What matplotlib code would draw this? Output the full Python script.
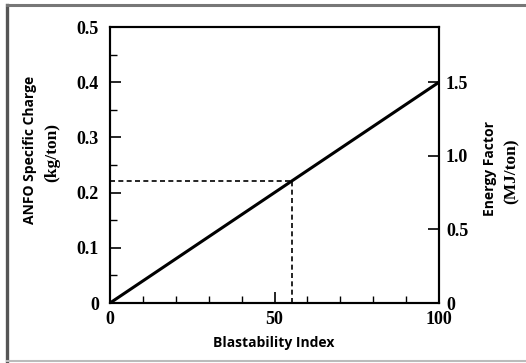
import matplotlib
matplotlib.use('Agg')
import matplotlib.pyplot as plt
from matplotlib.lines import Line2D

# blastability index vs ANFO specific charge (linear)
bi = [0, 100]
charge = [0, 0.4]
bi_mark = 55.3
charge_mark = 0.2212
energy_ticks = [0, 0.5, 1.0, 1.5]
energy_labels = ['0', '0.5', '1.0', '1.5']
energy_per_charge = 3.75  # MJ/ton per kg/ton

serif = 'Liberation Serif'
sans = 'Open Sans'

fig = plt.figure(figsize=(5.26, 3.63), dpi=100)
ax = fig.add_axes([110/526, 1 - 303/363, 329/526, 276/363])

ax.plot(bi, charge, color='black', lw=2.2, solid_capstyle='butt')
ax.plot([0, bi_mark], [charge_mark, charge_mark], color='black', lw=1.2, ls=(0, (3, 2)))
ax.plot([bi_mark, bi_mark], [0, charge_mark], color='black', lw=1.2, ls=(0, (3, 2)))

ax.set_xlim(0, 100)
ax.set_ylim(0, 0.5)
ax.set_xticks([0, 50, 100])
ax.set_xticks(range(0, 101, 10), minor=True)
ax.set_yticks([0, 0.1, 0.2, 0.3, 0.4, 0.5])
ax.set_yticklabels(['0', '0.1', '0.2', '0.3', '0.4', '0.5'])
ax.set_yticks([0.05, 0.15, 0.25, 0.35, 0.45], minor=True)
ax.tick_params(which='major', direction='in', length=8, width=1.2, top=False, right=False)
ax.tick_params(which='minor', direction='in', length=5, width=1.0, top=False, right=False)
ax.tick_params(axis='x', pad=6)
ax.tick_params(axis='y', pad=8)
for lab in ax.get_xticklabels() + ax.get_yticklabels():
    lab.set_fontfamily(serif)
    lab.set_fontweight('bold')
    lab.set_fontsize(13)
for s in ax.spines.values():
    s.set_linewidth(1.5)

ax2 = ax.twinx()
ax2.set_ylim(0, 0.5 * energy_per_charge)
ax2.set_yticks(energy_ticks)
ax2.set_yticklabels(energy_labels)
ax2.tick_params(direction='in', length=8, width=1.2, pad=5)
for lab in ax2.get_yticklabels():
    lab.set_fontfamily(serif)
    lab.set_fontweight('bold')
    lab.set_fontsize(13)
for s in ax2.spines.values():
    s.set_linewidth(1.5)

# axis titles (sans first line, serif units)
fig.text(274/526, 1 - 343/363, 'Blastability Index', family=sans, weight='bold',
         fontsize=10, ha='center', va='center')
fig.text(30/526, 1 - 150/363, 'ANFO Specific Charge', family=sans, weight='bold',
         fontsize=10, rotation=90, ha='center', va='center')
fig.text(52/526, 1 - 152/363, '(kg/ton)', family=serif, weight='bold',
         fontsize=12.5, rotation=90, ha='center', va='center')
fig.text(490/526, 1 - 168/363, 'Energy Factor', family=sans, weight='bold',
         fontsize=10, rotation=90, ha='center', va='center')
fig.text(512/526, 1 - 171/363, '(MJ/ton)', family=serif, weight='bold',
         fontsize=12.5, rotation=90, ha='center', va='center')

# frame around the figure
fig.add_artist(Line2D([7/526, 7/526], [1 - 361/363, 1 - 5/363], color='#555555', lw=2.4))
fig.add_artist(Line2D([7/526, 1], [1 - 5/363, 1 - 5/363], color='#777777', lw=2.2))
fig.add_artist(Line2D([7/526, 1], [1 - 361/363, 1 - 361/363], color='#bbbbbb', lw=1.5))

fig.savefig('out.png', dpi=100)
